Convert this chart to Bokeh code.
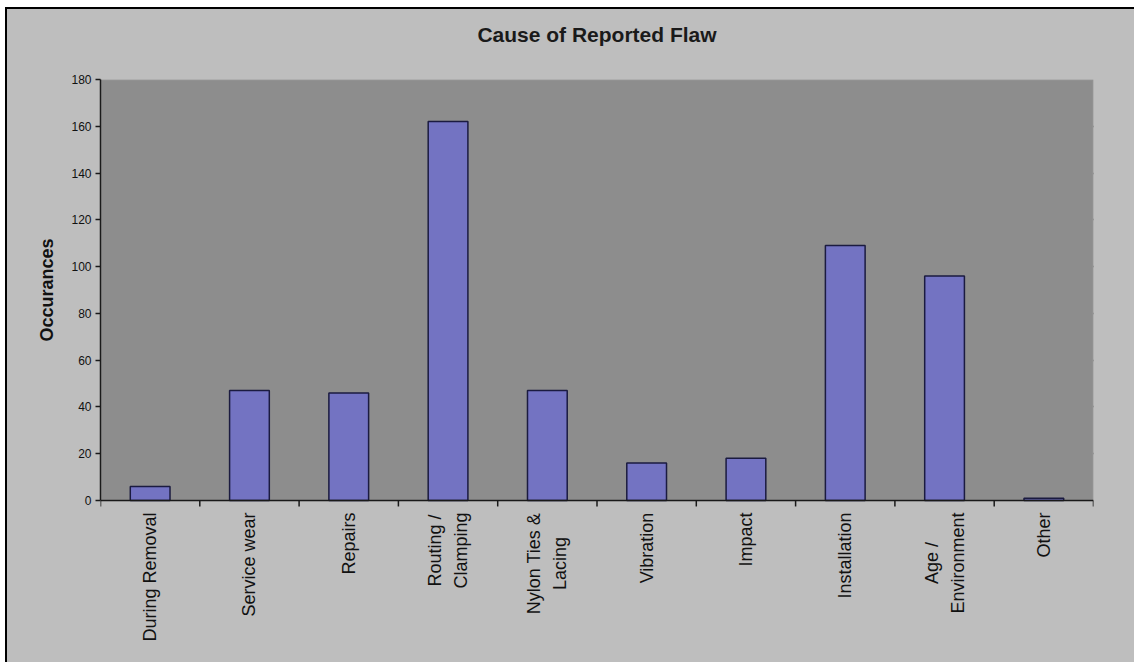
import math

from bokeh.plotting import figure
from bokeh.models import FixedTicker, ColumnDataSource, BoxAnnotation, Title
from bokeh.embed import file_html
from bokeh.resources import INLINE

# Reported flaw causes and their counts
categories = [
    "During Removal", "Service wear", "Repairs", "Routing /\nClamping",
    "Nylon Ties &\nLacing", "Vibration", "Impact", "Installation",
    "Age /\nEnvironment", "Other",
]
occurrences = [6, 47, 46, 162, 47, 16, 18, 109, 96, 1]
y_ticks = [0, 20, 40, 60, 80, 100, 120, 140, 160, 180]
y_title = "Occurances"

FONT = "Liberation Sans"
LABEL_PX = 18
LINE_PITCH = 26
LABEL_GAP = 12
TICK_PX = 6
BG = "#bebebe"

Y_TOP = 180
Y_LOW = -68          # extra room under the value axis for the category labels
FRAME_H = 580

# Arial / Liberation Sans advance widths (per 1000 em)
ADV = {
    " ": 278, "/": 278, "&": 667, "A": 667, "C": 722, "D": 722, "E": 667,
    "I": 278, "L": 556, "N": 722, "O": 778, "R": 722, "S": 667, "T": 611,
    "V": 667, "a": 556, "b": 556, "c": 500, "d": 556, "e": 556, "g": 556,
    "h": 556, "i": 222, "l": 222, "m": 833, "n": 556, "o": 556, "p": 556,
    "r": 333, "s": 500, "t": 278, "u": 556, "v": 500, "w": 722, "y": 500,
}
ADV_BOLD = {"O": 778, "a": 556, "c": 556, "e": 556, "n": 611, "r": 389,
            "s": 556, "u": 611}


def text_width(s, size, table=ADV):
    return sum(table.get(ch, 556) for ch in s) * size / 1000.0


n_cat = len(categories)
centers = [i + 0.5 for i in range(n_cat)]
bounds = list(range(n_cat + 1))
px_per_unit = FRAME_H / (Y_TOP - Y_LOW)

p = figure(
    width=1129, height=655,
    x_range=(0, n_cat), y_range=(Y_LOW, Y_TOP),
    output_backend="svg", toolbar_location=None,
    min_border_left=93, min_border_right=43,
    min_border_top=70, min_border_bottom=5,
    title="Cause of Reported Flaw",
)
p.margin = (7, 0, 0, 5)
p.styles = {"border-top": "2px solid #000", "border-left": "2px solid #000",
            "background-color": BG}

p.background_fill_color = BG
p.border_fill_color = BG
p.outline_line_color = None

# plot area (value range only)
p.add_layout(BoxAnnotation(bottom=0, top=Y_TOP, fill_color="#8d8d8d", fill_alpha=1,
                           line_color="#a4a4a4", line_width=2, level="underlay"))

p.title.align = "center"
p.title.text_font = FONT
p.title.text_font_size = "21px"
p.title.text_font_style = "bold"
p.title.text_color = "#1a1a1a"

# empty band between the title and the plot area
p.add_layout(Title(text=" ", text_font_size="24px", standoff=0), "above")

bars = ColumnDataSource(data=dict(x=centers, top=occurrences))
p.vbar(x="x", top="top", width=0.4, source=bars,
       fill_color="#7373c2", line_color="#1b1b40", line_width=1.5)

# category axis line and tick marks between categories
p.segment(x0=[0], y0=[0], x1=[n_cat], y1=[0], line_color="#1a1a1a", line_width=1.5)
p.segment(x0=bounds, y0=[0] * len(bounds), x1=bounds,
          y1=[-TICK_PX / px_per_unit] * len(bounds),
          line_color="#1a1a1a", line_width=1.5)

# vertical category labels, multi-line ones with centred lines
lx, lt, lxo, lyo = [], [], [], []
for cx, cat in zip(centers, categories):
    lines = cat.split("\n")
    longest = max(text_width(ln, LABEL_PX) for ln in lines)
    n = len(lines)
    for k, ln in enumerate(lines):
        lx.append(cx)
        lt.append(ln)
        lxo.append((k - (n - 1) / 2) * LINE_PITCH)
        lyo.append(LABEL_GAP + longest / 2)
labels = ColumnDataSource(data=dict(x=lx, y=[0] * len(lx), text=lt, xo=lxo, yo=lyo))
p.text(x="x", y="y", text="text", x_offset="xo", y_offset="yo", source=labels,
       angle=math.pi / 2, text_align="center", text_baseline="middle",
       text_font_size=f"{LABEL_PX}px", text_color="#111111",
       text_font={"value": FONT})

p.xaxis.visible = False

# y axis
p.yaxis.ticker = FixedTicker(ticks=y_ticks)
p.yaxis.bounds = (0, Y_TOP)
p.yaxis.major_label_text_font = FONT
p.yaxis.major_label_text_font_size = "12px"
p.yaxis.major_label_text_color = "#111111"
p.yaxis.major_label_standoff = 4
p.yaxis.major_tick_out = 5
p.yaxis.major_tick_in = 0
p.yaxis.minor_tick_line_color = None
p.yaxis.axis_line_color = "#1a1a1a"
p.yaxis.axis_line_width = 1.5
p.yaxis.major_tick_line_color = "#1a1a1a"
p.yaxis.major_tick_line_width = 1.5

# y axis title, centred on the 0-180 value range (anchored at its top end)
title_len = text_width(y_title, 18, ADV_BOLD)
p.add_layout(Title(text=y_title, align="right",
                   offset=(Y_TOP / 2) * px_per_unit - title_len / 2,
                   text_font=FONT, text_font_size="18px", text_font_style="bold",
                   text_color="#111111", standoff=23), "left")

# grid
p.xgrid.grid_line_color = None
p.ygrid.ticker = FixedTicker(ticks=y_ticks[1:-1])
p.ygrid.grid_line_color = "#1e1e1e"
p.ygrid.grid_line_width = 1.5

open("out.html", "w").write(file_html(p, INLINE))
